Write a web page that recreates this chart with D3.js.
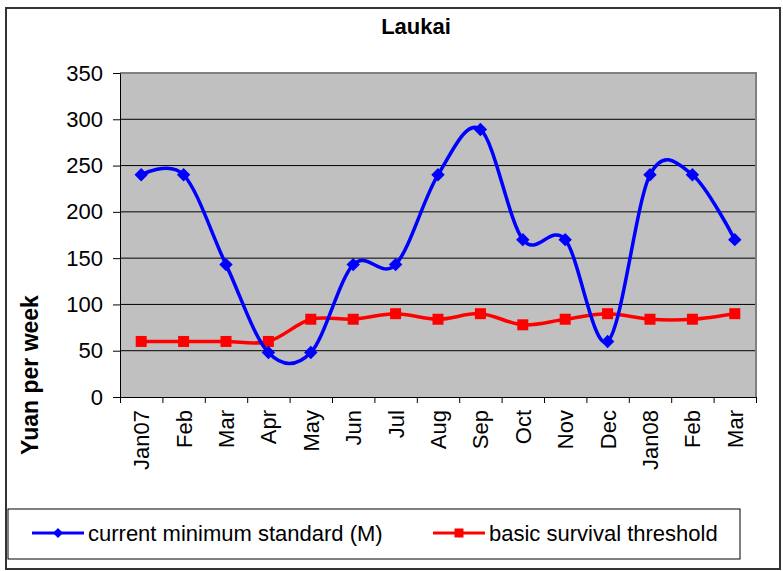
<!DOCTYPE html>
<html>
<head>
<meta charset="utf-8">
<script src="https://cdn.jsdelivr.net/npm/d3@7"></script>
<style>
  body { margin: 0; background: #fff; }
  text { font-family: "Liberation Sans", Arial, sans-serif; fill: #000; }
</style>
</head>
<body>
<div id="chart"></div>
<script>
const width = 783
const height = 571

// data
const months = ["Jan07", "Feb", "Mar", "Apr", "May", "Jun", "Jul", "Aug", "Sep", "Oct", "Nov", "Dec", "Jan08", "Feb ", "Mar "]
const minimumStandard = [240, 240, 143, 48, 48, 143, 143, 240, 289, 170, 170, 60, 240, 240, 170]
const survivalThreshold = [60, 60, 60, 60, 84, 84, 90, 84, 90, 78, 84, 90, 84, 84, 90]
const yTicks = [0, 50, 100, 150, 200, 250, 300, 350]

const plot = { left: 120, right: 756, top: 73, bottom: 397 }

const svg = d3.select("#chart")
              .append("svg")
              .attr("width", width)
              .attr("height", height)

// outer frame
svg.append("rect")
   .attr("x", 6).attr("y", 8)
   .attr("width", 774).attr("height", 561)
   .attr("fill", "#fff")
   .attr("stroke", "#333")
   .attr("stroke-width", 2)

svg.append("text")
   .attr("x", 416).attr("y", 34)
   .attr("text-anchor", "middle")
   .style("font-size", "22px")
   .style("font-weight", "bold")
   .text("Laukai")

const x = d3.scaleBand()
            .domain(months)
            .range([plot.left, plot.right])

const xIdx = d3.scaleLinear()
               .domain([0, months.length])
               .range([plot.left, plot.right])

const y = d3.scaleLinear()
            .domain([0, 350])
            .range([plot.bottom, plot.top])

// plot area
svg.append("rect")
   .attr("x", plot.left).attr("y", plot.top)
   .attr("width", plot.right - plot.left)
   .attr("height", plot.bottom - plot.top)
   .attr("fill", "#c0c0c0")

svg.append("g")
   .selectAll("line")
   .data(yTicks.filter(d => d > 0 && d < 350))
   .enter()
   .append("line")
   .attr("x1", plot.left).attr("x2", plot.right)
   .attr("y1", d => y(d)).attr("y2", d => y(d))
   .attr("stroke", "#000")
   .attr("stroke-width", 1)

// gray border top/right
svg.append("path")
   .attr("d", `M${plot.left},${plot.top}H${plot.right}V${plot.bottom}`)
   .attr("fill", "none")
   .attr("stroke", "#808080")
   .attr("stroke-width", 2)

// y axis
const yAxis = svg.append("g")
                 .attr("transform", `translate(${plot.left},0)`)
                 .call(d3.axisLeft(y).tickValues(yTicks).tickSize(7).tickPadding(10).tickSizeOuter(0))
yAxis.select(".domain").attr("stroke", "#000")
yAxis.selectAll("text").style("font-size", "22px").attr("fill", "#000")

// x axis: tick marks on category boundaries
const xTickAxis = svg.append("g")
                     .attr("transform", `translate(0,${plot.bottom})`)
                     .call(d3.axisBottom(xIdx).tickValues(d3.range(months.length + 1)).tickSize(6).tickFormat("").tickSizeOuter(0))
xTickAxis.select(".domain").attr("stroke", "#000")

// x labels
const xAxis = svg.append("g")
                 .attr("transform", `translate(0,${plot.bottom})`)
                 .call(d3.axisBottom(x).tickSize(0).tickFormat(d => d.trim()))
xAxis.select(".domain").remove()
xAxis.selectAll("text")
     .style("font-size", "22px")
     .attr("text-anchor", "end")
     .attr("y", 0)
     .attr("dy", "0.36em")
     .attr("transform", "translate(0,13) rotate(-90)")

svg.append("text")
   .attr("transform", "translate(38,375) rotate(-90)")
   .attr("text-anchor", "middle")
   .style("font-size", "23px")
   .style("font-weight", "bold")
   .text("Yuan per week")

const cx = (d, i) => x(months[i]) + x.bandwidth() / 2

const line = d3.line()
               .x(cx)
               .y(d => y(d))
               .curve(d3.curveCatmullRom.alpha(0))

const diamond = d3.symbol().type(d3.symbolDiamond2).size(115)
const square = d3.symbol().type(d3.symbolSquare).size(121)

svg.append("path")
   .datum(survivalThreshold)
   .attr("d", line)
   .attr("fill", "none")
   .attr("stroke", "#ff0000")
   .attr("stroke-width", 3.5)

svg.append("g")
   .selectAll("path")
   .data(survivalThreshold)
   .enter()
   .append("path")
   .attr("d", square)
   .attr("transform", (d, i) => `translate(${cx(d, i)},${y(d)})`)
   .attr("fill", "#ff0000")

svg.append("path")
   .datum(minimumStandard)
   .attr("d", line)
   .attr("fill", "none")
   .attr("stroke", "#0000ff")
   .attr("stroke-width", 3.5)

svg.append("g")
   .selectAll("path")
   .data(minimumStandard)
   .enter()
   .append("path")
   .attr("d", diamond)
   .attr("transform", (d, i) => `translate(${cx(d, i)},${y(d)})`)
   .attr("fill", "#0000ff")

// legend
const legend = svg.append("g").attr("id", "legend")
legend.append("rect")
      .attr("x", 8).attr("y", 509)
      .attr("width", 732).attr("height", 50)
      .attr("fill", "#fff")
      .attr("stroke", "#000")
      .attr("stroke-width", 1)

const legendItems = [
  { label: "current minimum standard (M)", color: "#0000ff", x: 32, sym: d3.symbol().type(d3.symbolDiamond2).size(65) },
  { label: "basic survival threshold", color: "#ff0000", x: 433, sym: d3.symbol().type(d3.symbolSquare).size(81) }
]

legendItems.forEach(item => {
  const g = legend.append("g").attr("transform", `translate(${item.x},533)`)
  g.append("line")
   .attr("x1", 0).attr("x2", 52)
   .attr("stroke", item.color)
   .attr("stroke-width", 3)
  g.append("path")
   .attr("d", item.sym)
   .attr("transform", "translate(26,0)")
   .attr("fill", item.color)
  g.append("text")
   .attr("x", 56)
   .attr("dy", "0.35em")
   .style("font-size", "22px")
   .text(item.label)
})
</script>
</body>
</html>
